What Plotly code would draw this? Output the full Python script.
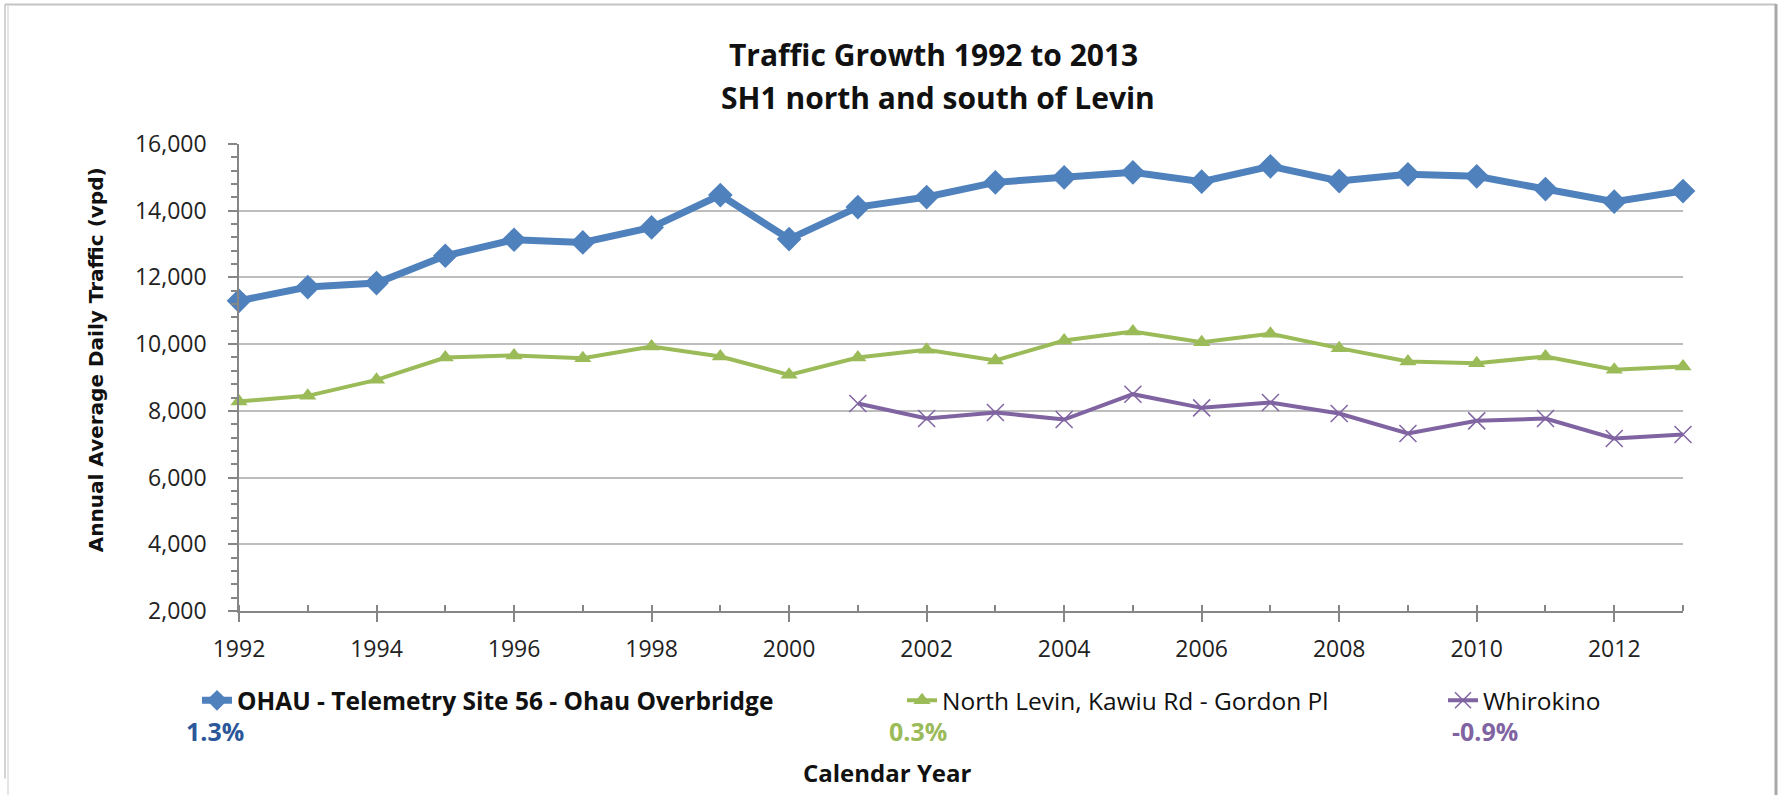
import plotly.graph_objects as go

# ---- data -------------------------------------------------------------
years = list(range(1992, 2014))

ohau_name = "OHAU - Telemetry Site 56 - Ohau Overbridge"
ohau_vpd = [11300, 11710, 11830, 12650, 13130, 13050, 13500, 14470, 13150, 14110, 14410,
            14850, 15000, 15150, 14870, 15330, 14890, 15090, 15030, 14650, 14270, 14590]

north_name = "North Levin, Kawiu Rd - Gordon Pl"
north_vpd = [8280, 8450, 8930, 9600, 9660, 9580, 9930, 9630, 9080, 9600, 9830,
             9510, 10110, 10380, 10060, 10310, 9880, 9480, 9430, 9630, 9230, 9330]

whiro_name = "Whirokino"
whiro_vpd = [None, None, None, None, None, None, None, None, None, 8220, 7770,
             7950, 7740, 8500, 8090, 8250, 7920, 7320, 7700, 7770, 7170, 7290]

growth_labels = ["1.3%", "0.3%", "-0.9%"]

title_lines = ["Traffic Growth 1992 to 2013", "SH1 north and south of Levin"]
y_title = "Annual Average Daily Traffic (vpd)"
x_title = "Calendar Year"

# ---- styling ------------------------------------------------------------
BLUE, GREEN, PURPLE = "#4F81BD", "#9BBB59", "#8064A2"
PCT_BLUE = "#2B579A"
W, H = 1788, 795
PL, PR, PT, PB = 239, 1683, 144, 610.7   # plot-area edges in pixels


def fx(p):
    """pixel x -> paper x"""
    return (p - PL) / (PR - PL)


def fy(p):
    """pixel y -> paper y"""
    return (PB - p) / (PB - PT)


tick_font = dict(family="Open Sans", size=23, color="#222222")
legend_font = dict(family="Open Sans", size=24.5, color="#111111")

fig = go.Figure()

fig.add_trace(go.Scatter(
    x=years, y=ohau_vpd, name="<b>" + ohau_name + "</b>", mode="lines+markers",
    line=dict(color=BLUE, width=7), marker=dict(symbol="diamond", size=19, color=BLUE),
    cliponaxis=False, legend="legend"))
fig.add_trace(go.Scatter(
    x=years, y=north_vpd, name=north_name, mode="lines+markers",
    line=dict(color=GREEN, width=4), marker=dict(symbol="triangle-up", size=15, color=GREEN),
    cliponaxis=False, legend="legend2"))
fig.add_trace(go.Scatter(
    x=years, y=whiro_vpd, name=whiro_name, mode="lines+markers", connectgaps=False,
    line=dict(color=PURPLE, width=4),
    marker=dict(symbol="x-thin", size=17, color=PURPLE, line=dict(color=PURPLE, width=1.5)),
    cliponaxis=False, legend="legend3"))

legend_common = dict(orientation="h", xanchor="left", yanchor="middle",
                     font=legend_font, bgcolor="rgba(0,0,0,0)", itemwidth=30)
fig.update_layout(
    legend=dict(x=fx(197), y=fy(700), **legend_common),
    legend2=dict(x=fx(902), y=fy(700), **legend_common),
    legend3=dict(x=fx(1443), y=fy(700), **legend_common),
)

fig.update_xaxes(
    range=[1992, 2013], tickmode="linear", tick0=1992, dtick=2, tickformat="d",
    showgrid=False, showline=True, linecolor="#868686", linewidth=1.5,
    ticks="outside", ticklen=9, tickcolor="#868686", tickwidth=1.5,
    minor=dict(dtick=1, tick0=1992, ticks="inside", ticklen=6, tickcolor="#868686", tickwidth=1.5),
    tickfont=tick_font, ticklabelstandoff=8, zeroline=False,
)
fig.update_yaxes(
    range=[2000, 16000], tickmode="linear", tick0=2000, dtick=2000, tickformat=",d",
    showgrid=True, gridcolor="#BDBDBD", gridwidth=2,
    showline=True, linecolor="#868686", linewidth=1.5,
    ticks="outside", ticklen=9, tickcolor="#868686", tickwidth=1.5,
    minor=dict(dtick=400, tick0=2000, ticks="outside", ticklen=6, tickcolor="#868686",
               tickwidth=1.5, showgrid=False),
    tickfont=tick_font, ticklabelstandoff=17, zeroline=False,
)

annotations = [
    dict(text="<b>" + title_lines[0] + "</b>", x=fx(933), y=fy(55)),
    dict(text="<b>" + title_lines[1] + "</b>", x=fx(938), y=fy(98)),
]
annotations = [dict(a, xref="paper", yref="paper", xanchor="center", yanchor="middle",
                    showarrow=False, font=dict(family="Open Sans", size=30, color="#111111"))
               for a in annotations]

annotations.append(dict(
    text="<b>" + y_title + "</b>", x=fx(96), y=fy(360), xref="paper", yref="paper",
    textangle=-90, showarrow=False, xanchor="center", yanchor="middle",
    font=dict(family="DejaVu Sans", size=20, color="#111111")))
annotations.append(dict(
    text="<b>" + x_title + "</b>", x=fx(887), y=fy(772), xref="paper", yref="paper",
    showarrow=False, xanchor="center", yanchor="middle",
    font=dict(family="Open Sans", size=24, color="#111111")))

for label, cx, col in zip(growth_labels, [215, 918, 1485], [PCT_BLUE, GREEN, PURPLE]):
    annotations.append(dict(
        text="<b>" + label + "</b>", x=fx(cx), y=fy(731), xref="paper", yref="paper",
        showarrow=False, xanchor="center", yanchor="middle",
        font=dict(family="Open Sans", size=25, color=col)))

# chart frame
frame = [
    dict(x0=fx(5), x1=fx(1776), y0=fy(4.5), y1=fy(4.5), color="#C4C4C4", width=2),
    dict(x0=fx(5), x1=fx(5), y0=fy(4), y1=fy(778), color="#C4C4C4", width=1.5),
    dict(x0=fx(8), x1=fx(8), y0=fy(6), y1=fy(795), color="#D4D4D4", width=1.2),
    dict(x0=fx(1776), x1=fx(1776), y0=fy(4), y1=fy(795), color="#A8A8A8", width=3),
]
shapes = [dict(type="line", xref="paper", yref="paper", x0=s["x0"], x1=s["x1"],
               y0=s["y0"], y1=s["y1"], line=dict(color=s["color"], width=s["width"]))
          for s in frame]

fig.update_layout(
    width=W, height=H,
    margin=dict(l=PL, r=W - PR, t=PT, b=H - PB, pad=0),
    paper_bgcolor="white", plot_bgcolor="white",
    annotations=annotations, shapes=shapes, showlegend=True,
)

fig.write_html("out.html")
